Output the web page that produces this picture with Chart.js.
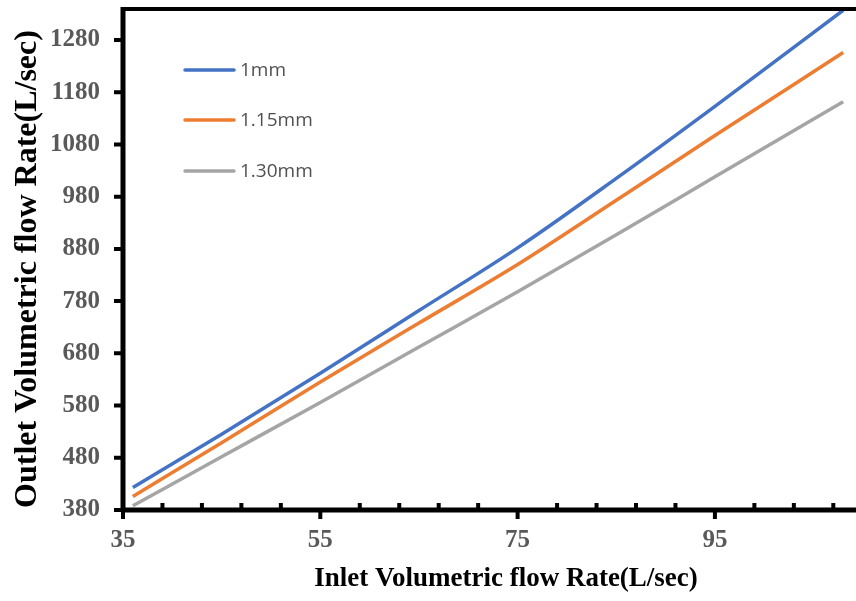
<!DOCTYPE html>
<html>
<head>
<meta charset="utf-8">
<script src="https://cdn.jsdelivr.net/npm/chart.js@4.4.1/dist/chart.umd.min.js"></script>
<style>
  html, body { margin: 0; padding: 0; background: #fff; }
  #wrap { width: 856px; height: 601px; }
</style>
</head>
<body>
<div id="wrap"><canvas id="flowChart" width="856" height="601"></canvas></div>
<script>
// Inlet flow rate (L/sec) sample points
var inletRate = [36, 45, 55, 65, 75, 85, 95, 108];
// Outlet flow rate (L/sec) for each diameter
var outlet1mm = [423, 525, 642, 762, 882, 1015, 1153, 1337];
var outlet115mm = [406, 509, 625, 738, 850, 973, 1097, 1256];
var outlet130mm = [388, 482, 586, 692, 798, 907, 1018, 1162];
var seriesNames = ["1mm", "1.15mm", "1.30mm"];
var seriesColors = ["#4472C4", "#ED7D31", "#A5A5A5"];

var xMajorTicks = [35, 55, 75, 95];
var xMinorTicks = [39, 43, 47, 51, 59, 63, 67, 71, 79, 83, 87, 91, 99, 103, 107];
var yTicks = [380, 480, 580, 680, 780, 880, 980, 1080, 1180, 1280];

function toPoints(ys) {
  return inletRate.map(function (x, i) { return { x: x, y: ys[i] }; });
}

var serif = "'Liberation Serif', 'Times New Roman', serif";
var tickFont = { family: serif, size: 25, weight: 'bold' };

// axes, tick marks, titles and the legend
var framePlugin = {
  id: 'frame',
  afterDraw: function (chart) {
    var ctx = chart.ctx;
    var area = chart.chartArea;
    var xs = chart.scales.x, ys = chart.scales.y;
    ctx.save();
    ctx.strokeStyle = '#000';
    ctx.lineWidth = 5;
    ctx.lineCap = 'butt';
    ctx.beginPath();
    ctx.moveTo(area.left, area.top - 2);
    ctx.lineTo(area.left, area.bottom + 2);
    ctx.moveTo(area.left - 2, area.bottom);
    ctx.lineTo(area.right, area.bottom);
    ctx.stroke();
    ctx.lineWidth = 4;
    ctx.beginPath();
    ctx.moveTo(area.left - 2, area.top);
    ctx.lineTo(area.right, area.top);
    ctx.stroke();

    ctx.lineWidth = 4;
    ctx.beginPath();
    yTicks.forEach(function (v) {
      var py = ys.getPixelForValue(v);
      ctx.moveTo(area.left - 9, py);
      ctx.lineTo(area.left, py);
    });
    xMajorTicks.forEach(function (v) {
      var px = xs.getPixelForValue(v);
      ctx.moveTo(px, area.bottom);
      ctx.lineTo(px, area.bottom + 9);
    });
    xMinorTicks.forEach(function (v) {
      var px = xs.getPixelForValue(v);
      ctx.moveTo(px, area.bottom);
      ctx.lineTo(px, area.bottom - 7);
    });
    ctx.stroke();

    // axis titles
    ctx.fillStyle = '#000';
    ctx.textAlign = 'center';
    ctx.textBaseline = 'middle';
    ctx.font = 'bold 27px ' + serif;
    ctx.fillText('Inlet Volumetric flow Rate(L/sec)', 506, 579);
    ctx.save();
    ctx.translate(28, 269);
    ctx.rotate(-Math.PI / 2);
    ctx.font = 'bold 32px ' + serif;
    ctx.fillText('Outlet Volumetric flow Rate(L/sec)', 0, 0);
    ctx.restore();

    // legend
    var legendY = [70, 120, 171];
    ctx.font = "19px 'Open Sans', 'Liberation Sans', sans-serif";
    ctx.textAlign = 'left';
    chart.data.datasets.forEach(function (ds, i) {
      ctx.strokeStyle = ds.borderColor;
      ctx.lineWidth = 3.5;
      ctx.lineCap = 'round';
      ctx.beginPath();
      ctx.moveTo(185, legendY[i]);
      ctx.lineTo(234, legendY[i]);
      ctx.stroke();
      ctx.fillStyle = '#505050';
      ctx.fillText(ds.label, 240, legendY[i] + 1);
    });
    ctx.restore();
  }
};

var flowChart = new Chart(document.getElementById('flowChart'), {
  type: 'line',
  data: {
    datasets: [
      { label: seriesNames[0], data: toPoints(outlet1mm), borderColor: seriesColors[0] },
      { label: seriesNames[1], data: toPoints(outlet115mm), borderColor: seriesColors[1] },
      { label: seriesNames[2], data: toPoints(outlet130mm), borderColor: seriesColors[2] }
    ]
  },
  options: {
    responsive: false,
    animation: false,
    layout: { padding: { top: 9, left: 0, right: 0, bottom: 0 } },
    elements: {
      line: { borderWidth: 3.5, cubicInterpolationMode: 'monotone', fill: false },
      point: { radius: 0 }
    },
    plugins: {
      legend: { display: false },
      tooltip: { enabled: false }
    },
    scales: {
      x: {
        type: 'linear',
        min: 35,
        max: 109.3,
        grid: { display: false },
        border: { display: false },
        afterBuildTicks: function (scale) {
          scale.ticks = xMajorTicks.map(function (v) { return { value: v }; });
        },
        afterFit: function (scale) {
          scale.height = 91;
          scale.paddingLeft = 0;
          scale.paddingRight = 0;
        },
        ticks: {
          font: tickFont,
          color: '#595959',
          padding: 8,
          maxRotation: 0,
          autoSkip: false,
          callback: function (v) { return String(v); }
        }
      },
      y: {
        type: 'linear',
        min: 380,
        max: 1339.4,
        grid: { display: false },
        border: { display: false },
        afterBuildTicks: function (scale) {
          scale.ticks = yTicks.map(function (v) { return { value: v }; });
        },
        afterFit: function (scale) {
          scale.width = 123;
          scale.paddingTop = 0;
          scale.paddingBottom = 0;
        },
        ticks: {
          font: tickFont,
          color: '#595959',
          padding: 15,
          autoSkip: false,
          callback: function (v) { return String(v); }
        }
      }
    }
  },
  plugins: [framePlugin]
});
</script>
</body>
</html>
